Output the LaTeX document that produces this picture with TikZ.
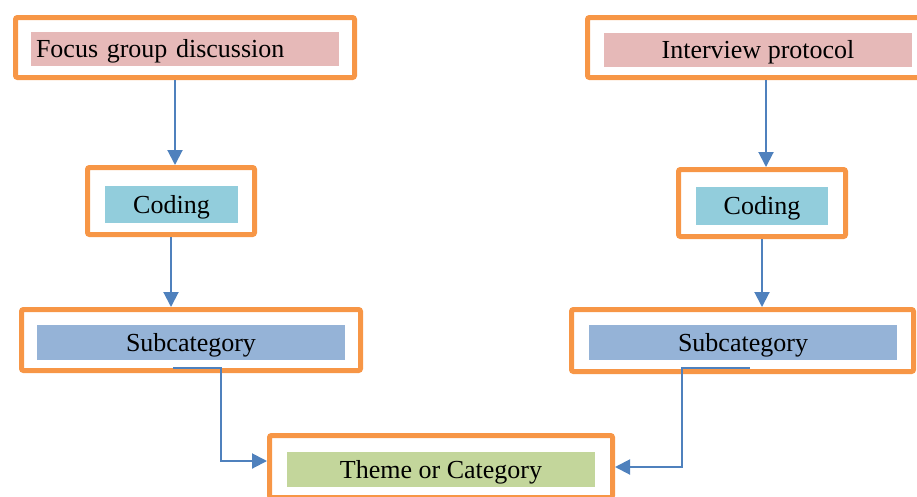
\documentclass[tikz,border=0pt]{standalone}
\usepackage{fontspec}
\setmainfont{Liberation Serif}
\usetikzlibrary{arrows.meta}
\definecolor{frame}{HTML}{F79646}
\definecolor{arrowc}{HTML}{4F81BD}
\definecolor{pinkf}{HTML}{E6B9B8}
\definecolor{cyanf}{HTML}{92CDDC}
\definecolor{bluef}{HTML}{95B3D7}
\definecolor{greenf}{HTML}{C3D69B}
\begin{document}
\begin{tikzpicture}[x=1pt,y=-1pt,
  outerbox/.style={draw=frame, line width=5pt, rounded corners=2pt, inner sep=0pt},
  inbox/.style={inner sep=0pt, minimum height=35pt, text height=20pt, text depth=3pt,
                font=\fontsize{26}{30}\selectfont},
  arr/.style={draw=arrowc, line width=2pt, -{Triangle[length=15pt,width=15pt]}}]
\useasboundingbox (0,0) rectangle (917,496);
% outer frames
\node[outerbox, minimum width=339pt, minimum height=60pt] (fgdO) at (185,47.5) {};
\node[outerbox, minimum width=340pt, minimum height=60pt] (ipO) at (757.5,47.5) {};
\node[outerbox, minimum width=167pt, minimum height=67pt] (codLO) at (171,201) {};
\node[outerbox, minimum width=167pt, minimum height=67pt] (codRO) at (762,203) {};
\node[outerbox, minimum width=339pt, minimum height=61pt] (subLO) at (191,340) {};
\node[outerbox, minimum width=342pt, minimum height=62pt] (subRO) at (742.5,340.5) {};
\node[outerbox, minimum width=343pt, minimum height=62pt] (thO) at (441,466.5) {};
% inner labels
\node[inbox, fill=pinkf, minimum height=34pt, inner xsep=5pt, text width=298pt, align=left] (fgdI) at (185,49) {Focus group discussion};
\node[inbox, fill=pinkf, minimum height=34pt, minimum width=308pt] (ipI) at (758,50) {Interview protocol};
\node[inbox, fill=cyanf, minimum height=37pt, minimum width=133pt] (codLI) at (171.5,204.5) {Coding};
\node[inbox, fill=cyanf, minimum height=38pt, minimum width=132pt] (codRI) at (762,206) {Coding};
\node[inbox, fill=bluef, minimum width=308pt] (subLI) at (191,342.5) {Subcategory};
\node[inbox, fill=bluef, minimum width=308pt] (subRI) at (743,342.5) {Subcategory};
\node[inbox, fill=greenf, minimum width=308pt] (thI) at (441,469.5) {Theme or Category};
% connectors
\coordinate (cA) at (175,0);
\coordinate (cB) at (766,0);
\draw[arr] (fgdO.south -| cA) -- (codLO.north -| cA);
\draw[arr] (codLO.south) -- (codLO.south |- subLO.north);
\draw[arr] (ipO.south -| cB) -- (codRO.north -| cB);
\draw[arr] (codRO.south) -- (codRO.south |- subRO.north);
\coordinate (sL) at (173,368);
\coordinate (kL) at (221,461);
\coordinate (sR) at (750,368);
\coordinate (kR) at (682,467);
\draw[arr] (sL) -| (kL) -- (kL -| thO.west);
\draw[arr] (sR) -| (kR) -- (kR -| thO.east);
\end{tikzpicture}
\end{document}
